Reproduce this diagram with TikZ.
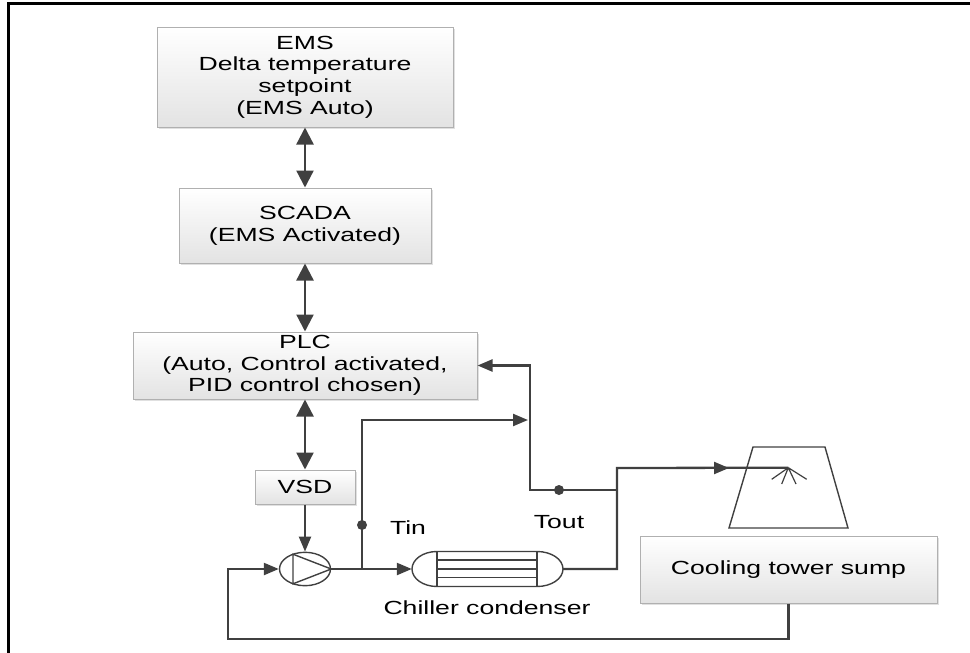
\documentclass[tikz,border=0pt]{standalone}
\usepackage{fontspec}
\setmainfont[FakeStretch=1.4]{Liberation Sans}
\usetikzlibrary{arrows.meta,shadows,shapes.geometric}
\definecolor{lin}{HTML}{404040}
\definecolor{bord}{HTML}{B0B0B0}
\begin{document}
\begin{tikzpicture}[x=1pt,y=-1pt,
  box/.style={draw=bord, line width=1pt, top color=white, bottom color=black!11, align=center, inner sep=0pt,
    font=\fontsize{19pt}{21.7pt}\selectfont,
    general shadow={shadow xshift=2pt, shadow yshift=-2pt, fill=black!12}},
  lbl/.style={font=\fontsize{19pt}{21.7pt}\selectfont, inner sep=0pt},
  conn/.style={draw=lin, line width=2.3pt},
  dbl/.style={conn, {Triangle[length=17pt,width=17pt]}-{Triangle[length=17pt,width=17pt]}},
  flow/.style={conn, -{Triangle[length=15pt,width=12pt]}},
  equip/.style={draw=lin, line width=1.4pt},
  dot/.style={circle, fill=lin, inner sep=0pt, minimum size=10pt}
]
\useasboundingbox (0,0) rectangle (970,653);
% frame
\draw[line width=3pt] (8,653) -- (8,3.2) -- (970,3.2);

% boxes
\node[box, minimum width=296pt, minimum height=100pt] (ems) at (305,77) {EMS\\Delta temperature\\setpoint\\(EMS Auto)};
\node[box, minimum width=252pt, minimum height=75pt] (scada) at (305,225.5) {SCADA\\(EMS Activated)};
\node[box, minimum width=344pt, minimum height=67pt] (plc) at (305,365.5) {PLC\\(Auto, Control activated,\\PID control chosen)};
\node[box, minimum width=100pt, minimum height=34pt] (vsd) at (305,487) {VSD};
\node[box, minimum width=297pt, minimum height=67pt] (sump) at (788.5,569.5) {Cooling tower sump};

% pump
\node[draw=lin, line width=1.4pt, ellipse, minimum width=51pt, minimum height=33.4pt, inner sep=0pt] (pump) at (305,569) {};
\draw[equip] (293,554.2) -- (293,583.8) -- (pump.east) -- cycle;

% chiller condenser
\node[minimum width=151pt, minimum height=35pt, inner sep=0pt] (chiller) at (487.5,569) {};
\draw[equip] (437,551.5) -- (537,551.5) .. controls (551.4,551.5) and (563,559.3) .. (563,569)
  .. controls (563,578.7) and (551.4,586.5) .. (537,586.5) -- (437,586.5)
  .. controls (423.2,586.5) and (412,578.7) .. (412,569)
  .. controls (412,559.3) and (423.2,551.5) .. (437,551.5) -- cycle;
\draw[equip] (437,551.5) -- (437,586.5) (537,551.5) -- (537,586.5)
  (437,560) -- (537,560) (437,569) -- (537,569) (437,577.5) -- (537,577.5);

% cooling tower
\draw[equip] (753,447) -- (825,447) -- (848,528) -- (729,528) -- cycle;
\coordinate (spray) at (788.3,467.7);
\draw[equip, line width=1.2pt] (spray) -- (771.7,479.3) (spray) -- (781.7,484) (spray) -- (796,484) (spray) -- (806.7,479.3);

% coordinates
\coordinate (jin) at (362,569);
\coordinate (tintop) at (362,420);
\coordinate (tinend) at (528,420);
\coordinate (tout) at (617,490);
\coordinate (jout) at (530,490);
\coordinate (plcin) at (530,365.5);
\coordinate (outa) at (617,569);
\coordinate (outb) at (617,468);
\coordinate (outtip) at (729,468);
\coordinate (ret1) at (788.5,639);
\coordinate (ret2) at (228,639);
\coordinate (ret3) at (228,569);

% control connectors
\draw[dbl] (ems.south) -- (scada.north);
\draw[dbl] (scada.south) -- (plc.north);
\draw[dbl] (plc.south) -- (vsd.north);
\draw[flow] (vsd.south) -- (pump.north);

% water loop
\draw[flow] (pump.east) -- (chiller.west);
\draw[conn] (chiller.east) -- (outa) -- (outb) -- (spray);
\draw[flow] (outb) -- (outtip);
\draw[flow] (sump.south) -- (ret1) -- (ret2) -- (ret3) -- (pump.west);
\draw[flow] (jin) -- (tintop) -- (tinend);
\draw[flow] (tout) -- (jout) -- (plcin) -- (plc.east);

% sensors
\node[dot] (dtin) at (362,525) {};
\node[dot] (dtout) at (559,490) {};

% labels
\node[lbl] (tin) at (408,528) {Tin};
\node[lbl] (toutl) at (559,522) {Tout};
\node[lbl] (chl) at (487,608) {Chiller condenser};
\end{tikzpicture}
\end{document}
